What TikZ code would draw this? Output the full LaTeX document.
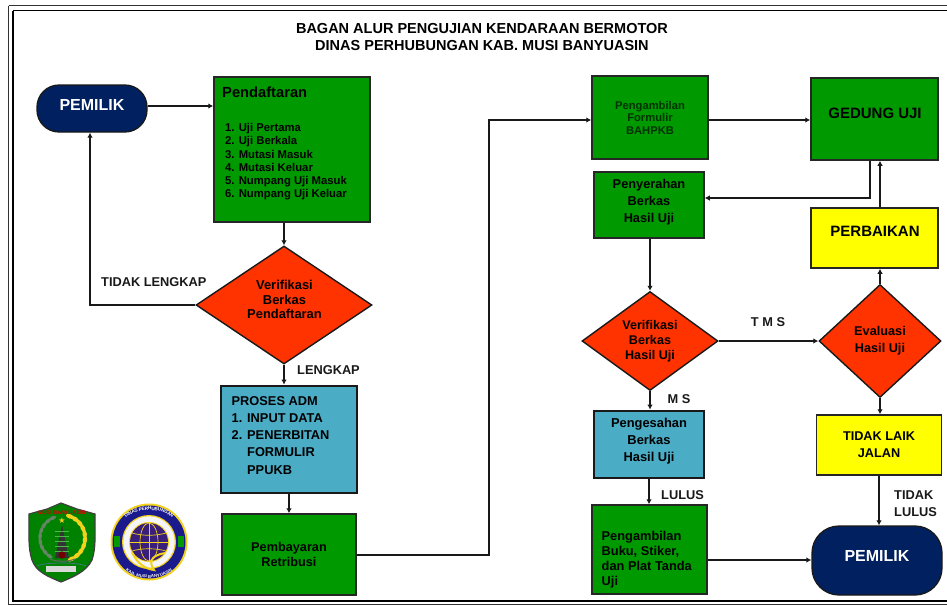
\documentclass[tikz,border=0pt]{standalone}
\usepackage{fontspec}
\setmainfont{Liberation Sans}
\newfontfamily\symfont{DejaVu Sans}
\usetikzlibrary{arrows.meta,shapes.geometric,decorations.text}
\definecolor{gbox}{HTML}{009900}
\definecolor{rdia}{HTML}{FF3300}
\definecolor{bbox}{HTML}{4BACC6}
\definecolor{navy}{HTML}{002060}
\definecolor{ybox}{HTML}{FFFF00}
\definecolor{lnavy}{HTML}{1A1A8C}
\definecolor{lpurp}{HTML}{3A1F7A}
\definecolor{lgold}{HTML}{F2D21B}
\tikzset{
 x=1pt,y=-1pt,
 every node/.style={font=\bfseries,inner sep=0pt,align=center},
 boxg/.style={draw=black!85,line width=1.5pt,fill=gbox,text=black},
 boxb/.style={draw=black!90,line width=2.8pt,fill=bbox},
 boxy/.style={draw=black!85,line width=1.5pt,fill=ybox},
 dia/.style={diamond,aspect=1.4,draw=black!90,line width=1.4pt,fill=rdia},
 pill/.style={rounded corners=22pt,draw=black!90,line width=1.3pt,fill=navy,text=white},
 arr/.style={line width=1.5pt,draw=black!90,-{Latex[length=5pt,width=5.5pt]}},
 lab/.style={font=\bfseries\fontsize{12.8}{17}\selectfont,text=black!90},
}
\newcommand{\sz}[2]{\fontsize{#1}{#2}\selectfont}
\newcommand{\nm}[1]{\makebox[15.5pt][l]{#1}}
\begin{document}
\begin{tikzpicture}
\useasboundingbox (0,0) rectangle (947,606);
\fill[white] (0,0) rectangle (947,606);
% frame
\draw[black!80,line width=1.6pt] (8.5,5.5) -- (947,5.5) (8.5,5.5) -- (8.5,604.5) -- (947,604.5);
\draw[black,line width=1.6pt] (13,10.5) -- (947,10.5) (13,10.5) -- (13,601) -- (947,601);
% title
\node[name=title,font=\bfseries\sz{14.5}{17}] at (482,37.5) {BAGAN ALUR PENGUJIAN KENDARAAN BERMOTOR\\DINAS PERHUBUNGAN KAB. MUSI BANYUASIN};
% boxes
\node[pill,minimum width=110pt,minimum height=47pt] (pem1) at (92,108.5) {};
\node[boxg,minimum width=156pt,minimum height=145pt] (pend) at (292,149.5) {};
\node[dia,minimum width=176pt,minimum height=118pt] (d1) at (284,305) {};
\node[boxb,minimum width=136pt,minimum height=107pt] (adm) at (289,439.5) {};
\node[boxg,minimum width=134pt,minimum height=81pt,font=\bfseries\sz{12.7}{15}] (bayar) at (289,554.5) {Pembayaran\\Retribusi};
\node[boxg,minimum width=116pt,minimum height=83pt,text=black!45!gbox!60!black,font=\bfseries\sz{11.2}{12.5}] (form) at (650,117.5) {Pengambilan\\Formulir\\BAHPKB};
\node[boxg,minimum width=127pt,minimum height=82pt] (ged) at (874.5,119) {};
\node[boxg,minimum width=110pt,minimum height=66pt,font=\bfseries\sz{12.8}{17}] (serah) at (649,205) {};
\node[boxy,minimum width=127pt,minimum height=60pt] (baik) at (874.5,238) {};
\node[dia,minimum width=136pt,minimum height=99pt,font=\bfseries\sz{12.6}{15}] (d2) at (650,341) {Verifikasi\\Berkas\\Hasil Uji};
\node[dia,minimum width=122pt,minimum height=113pt,font=\bfseries\sz{12.7}{17}] (d3) at (880,341) {Evaluasi\\Hasil Uji};
\node[boxb,minimum width=110pt,minimum height=67pt] (sah) at (649,444.5) {};
\node[boxy,minimum width=125pt,minimum height=60pt,font=\bfseries\sz{12.7}{17}] (tlj) at (879,445) {TIDAK LAIK\\JALAN};
\node[boxg,minimum width=115pt,minimum height=89pt] (buku) at (649.5,549.5) {};
\node[pill,rounded corners=27pt,minimum width=130pt,minimum height=69pt] (pem2) at (877,560.5) {};
% texts set off-centre in their boxes
\node[text=white,font=\bfseries\sz{16}{18}] (pem1t) at (92,105) {PEMILIK};
\node[anchor=west,font=\bfseries\sz{14.7}{16}] (pendt) at (222,92.5) {Pendaftaran};
\node[anchor=north west,align=left,font=\bfseries\sz{11.3}{13.1}] (pendl) at (225,123.5) {1. Uji Pertama\\2. Uji Berkala\\3. Mutasi Masuk\\4. Mutasi Keluar\\5. Numpang Uji Masuk\\6. Numpang Uji Keluar};
\node[font=\bfseries\sz{12.9}{14.5}] (d1t) at (284.5,299.5) {Verifikasi\\Berkas\\Pendaftaran};
\node[anchor=north west,align=left,font=\bfseries\sz{12.8}{17}] (admt) at (231.5,396) {PROSES ADM\\\nm{1.}INPUT DATA\\\nm{2.}PENERBITAN\\\nm{}FORMULIR\\[1.5pt]\nm{}PPUKB};
\node[font=\bfseries\sz{15}{17}] (gedt) at (875,113) {GEDUNG UJI};
\node[font=\bfseries\sz{12.8}{17}] (sert) at (649,202) {Penyerahan\\Berkas\\Hasil Uji};
\node[font=\bfseries\sz{15}{17}] (baikt) at (875,231) {PERBAIKAN};
\node[font=\bfseries\sz{12.9}{17}] (saht) at (649,441) {Pengesahan\\Berkas\\Hasil Uji};
\node[anchor=west,align=left,font=\bfseries\sz{12.8}{15}] (bukut) at (601.5,560) {Pengambilan\\Buku, Stiker,\\dan Plat Tanda\\Uji};
\node[text=white,font=\bfseries\sz{16}{18}] (pem2t) at (877,556) {PEMILIK};
% connector helpers
\coordinate (c1) at (489,555);
\coordinate (c2) at (489,120);
\coordinate (c3) at (870,198);
\coordinate (c4) at (880,200);
\coordinate (c5) at (90,200);
\coordinate (c6) at (700,560);
\coordinate (c7) at (180,106);
% connectors
\draw[arr] (pem1.east |- c7) -- (c7 -| pend.west);
\draw[arr] (d1.north |- pend.south) -- (d1.north);
\draw[arr] (d1.west) -| (c5 |- pem1.south);
\draw[arr] (d1.south) -- (d1.south |- adm.north);
\draw[arr] (adm.south) -- (bayar.north);
\draw[arr] (bayar.east |- c1) -- (c1) -- (c2) -- (c2 -| form.west);
\draw[arr] (c2 -| form.east) -- (c2 -| ged.west);
\draw[arr] (c3 |- ged.south) -- (c3) -- (c3 -| serah.east);
\draw[arr] (c4 |- baik.north) -- (c4 |- ged.south);
\draw[arr] (d2.north |- serah.south) -- (d2.north);
\draw[arr] (d2.east) -- (d3.west);
\draw[arr] (d2.south) -- (d2.south |- sah.north);
\draw[arr] (d3.north) -- (d3.north |- baik.south);
\draw[arr] (d3.south) -- (d3.south |- tlj.north);
\draw[arr] (sah.south) -- (buku.north -| sah.south);
\draw[arr] (tlj.south) -- (pem2.north -| tlj.south);
\draw[arr] (buku.east |- c6) -- (c6 -| pem2.west);
% labels
\node[lab,anchor=west] (l1) at (101,282) {TIDAK LENGKAP};
\node[lab,anchor=west] (l2) at (297,370) {LENGKAP};
\node[lab] (l3) at (768,322) {T M S};
\node[lab,anchor=west] (l4) at (667.5,399.5) {M S};
\node[lab,anchor=west] (l5) at (661,495) {LULUS};
\node[lab,anchor=west,align=left] (l6) at (894,503.5) {TIDAK\\LULUS};
% logo 1 : shield
\begin{scope}
\draw[black!75,line width=1.2pt,fill=gbox!85!black]
 (29,514) -- (47,509) -- (61,503) -- (77,509) -- (95,514)
 .. controls (95,535) and (96,548) .. (92,560)
 .. controls (86,572) and (73,577) .. (61,582)
 .. controls (49,577) and (36,572) .. (32,560)
 .. controls (28,548) and (29,535) .. (29,514) -- cycle;
\node[text=red!85!black,font=\bfseries\fontsize{5.4}{6}\selectfont] (lg1) at (62,513) {MUSI BANYUASIN};
\node[text=lgold,font=\symfont\fontsize{8}{9}\selectfont] (star) at (62,521) {★};
\fill[black!80] (62,525) -- (55,558) -- (69,558) -- cycle;
\foreach \yy in {531,536,541,546,551} \draw[gbox!70!white,line width=.4pt] (55,\yy) -- (69,\yy);
\fill[red!45!black] (62,555) circle (3.6);
\foreach \a in {-65,-50,...,70}
 \fill[lgold,shift={(62,538)},rotate=\a] (23,0) ellipse (2.2 and 4.2);
\foreach \a in {115,130,...,245}
 \fill[gray!80!gbox,shift={(62,538)},rotate=\a] (22,0) ellipse (1.8 and 3.6);
\draw[black!60,line width=1pt] (50,559) .. controls (56,562) and (68,562) .. (75,559);
\draw[cyan!50!black,line width=.7pt] (37,566) .. controls (45,562) and (78,562) .. (86,566);
\fill[white!85!black] (46,566) rectangle (76,572);
\end{scope}
% logo 2 : round badge
\begin{scope}
\fill[lgold] (149,542) circle (38.5);
\fill[lnavy] (149,542) circle (36.5);
\fill[lgold] (149,542) circle (27);
\fill[white!95!lnavy] (149,542) circle (25.7);
\fill[lgold] (149,542) circle (20);
\fill[lpurp] (149,542) circle (19);
\draw[lgold,line width=.7pt] (149,523) -- (149,561) (130,542) -- (168,542);
\draw[lgold,line width=.7pt] (149,542) ellipse (9 and 19);
\draw[lgold,line width=.7pt] (132,533) .. controls (142,536) and (156,536) .. (166,533);
\draw[lgold,line width=.7pt] (132,551) .. controls (142,548) and (156,548) .. (166,551);
\draw[lgold,line width=2pt] (132,552) .. controls (137,564) and (146,569) .. (154,570) .. controls (150,564) and (148,556) .. (165,553);
\fill[gbox] (114,536) rectangle (120,547);
\fill[gbox] (178,536) rectangle (184,547);
\path[postaction={decorate,decoration={text along path,text align=center,raise=-1.5pt,
  text={|\fontsize{4.6}{5}\bfseries\color{white}|DINAS PERHUBUNGAN}}}]
  (118,528) .. controls (124,502) and (174,502) .. (180,528);
\path[postaction={decorate,decoration={text along path,text align=center,raise=-1.5pt,
  text={|\fontsize{4.2}{5}\bfseries\color{white}|KAB. MUSI BANYUASIN}}}]
  (121,563) .. controls (130,581) and (168,581) .. (177,563);
\end{scope}
\end{tikzpicture}
\end{document}
